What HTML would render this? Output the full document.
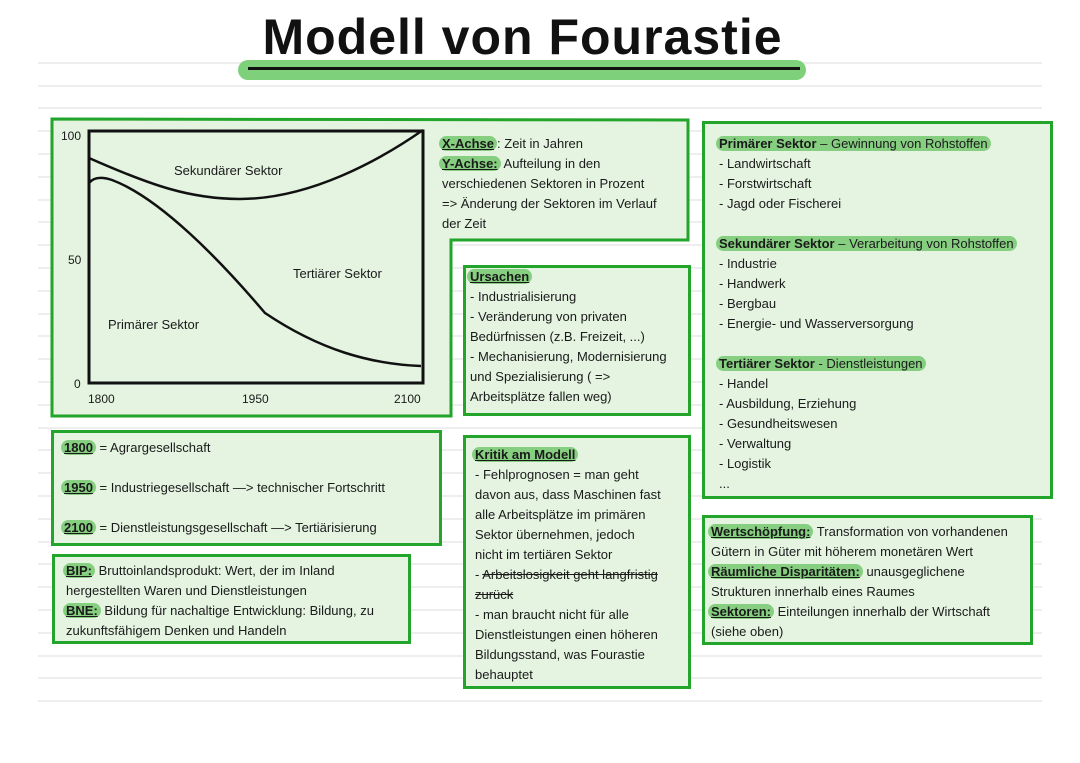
<!DOCTYPE html>
<html><head><meta charset="utf-8"><style>
body{margin:0;width:1080px;height:763px;background:#fff;position:relative;overflow:hidden;font-family:"Liberation Sans",sans-serif;color:#1a1a1a}
.t{position:absolute;font-size:13px;line-height:20px;white-space:nowrap}
.p{background:#86cf80;border-radius:8px;padding:0 3px;margin-left:-3px}
.u{text-decoration:underline;font-weight:bold}
.box{position:absolute;background:#e4f4e1;border:3px solid #22a52a;box-sizing:border-box}
</style></head><body>
<svg width="1080" height="763" style="position:absolute;left:0;top:0">
<g stroke="#dcdcdc" stroke-width="1">
<line x1="38" x2="1042" y1="63" y2="63"/><line x1="38" x2="1042" y1="86" y2="86"/><line x1="38" x2="1042" y1="108" y2="108"/><line x1="38" x2="1042" y1="131" y2="131"/><line x1="38" x2="1042" y1="154" y2="154"/><line x1="38" x2="1042" y1="177" y2="177"/><line x1="38" x2="1042" y1="200" y2="200"/><line x1="38" x2="1042" y1="222" y2="222"/><line x1="38" x2="1042" y1="245" y2="245"/><line x1="38" x2="1042" y1="268" y2="268"/><line x1="38" x2="1042" y1="291" y2="291"/><line x1="38" x2="1042" y1="314" y2="314"/><line x1="38" x2="1042" y1="336" y2="336"/><line x1="38" x2="1042" y1="359" y2="359"/><line x1="38" x2="1042" y1="382" y2="382"/><line x1="38" x2="1042" y1="405" y2="405"/><line x1="38" x2="1042" y1="428" y2="428"/><line x1="38" x2="1042" y1="450" y2="450"/><line x1="38" x2="1042" y1="473" y2="473"/><line x1="38" x2="1042" y1="496" y2="496"/><line x1="38" x2="1042" y1="519" y2="519"/><line x1="38" x2="1042" y1="542" y2="542"/><line x1="38" x2="1042" y1="564" y2="564"/><line x1="38" x2="1042" y1="587" y2="587"/><line x1="38" x2="1042" y1="610" y2="610"/><line x1="38" x2="1042" y1="633" y2="633"/><line x1="38" x2="1042" y1="656" y2="656"/><line x1="38" x2="1042" y1="678" y2="678"/><line x1="38" x2="1042" y1="701" y2="701"/>
</g>
<rect x="238" y="60" width="568" height="20" rx="10" fill="#7fd07a"/>
<rect x="248" y="67" width="552" height="3" fill="#111"/>
<polygon points="52,119 688,120 688,240 451,240 451,416 52,416" fill="#e4f4e1" stroke="#22a52a" stroke-width="3"/>
<rect x="89" y="131" width="334" height="252" fill="none" stroke="#111" stroke-width="3"/>
<path d="M89,158 C150,185 190,199 240,199 C310,199 380,160 423,130" fill="none" stroke="#111" stroke-width="2.5"/>
<path d="M89,183 C93,178 100,176 112,180 C160,198 220,260 265,313 C320,350 370,364 421,366" fill="none" stroke="#111" stroke-width="2.5"/>
</svg>
<div class="t" style="left:248px;top:8px;width:549px;text-align:center;font-size:50px;line-height:58px;font-weight:bold;color:#111;letter-spacing:1px">Modell von Fourastie</div>
<div class="t" style="left:61px;top:126px;font-size:12px">100</div>
<div class="t" style="left:68px;top:250px;font-size:12px">50</div>
<div class="t" style="left:74px;top:374px;font-size:12px">0</div>
<div class="t" style="left:88px;top:389px;font-size:12px">1800</div>
<div class="t" style="left:242px;top:389px;font-size:12px">1950</div>
<div class="t" style="left:394px;top:389px;font-size:12px">2100</div>
<div class="t" style="left:174px;top:161px">Sekundärer Sektor</div>
<div class="t" style="left:293px;top:264px">Tertiärer Sektor</div>
<div class="t" style="left:108px;top:315px">Primärer Sektor</div>

<div class="t" style="left:442px;top:134px"><span class="p u">X-Achse</span>: Zeit in Jahren<br><span class="p u">Y-Achse:</span> Aufteilung in den<br>verschiedenen Sektoren in Prozent<br>=&gt; Änderung der Sektoren im Verlauf<br>der Zeit</div>

<div class="box" style="left:463px;top:265px;width:228px;height:151px"></div>
<div class="t" style="left:470px;top:267px"><span class="p u">Ursachen</span><br>- Industrialisierung<br>- Veränderung von privaten<br>Bedürfnissen (z.B. Freizeit, ...)<br>- Mechanisierung, Modernisierung<br>und Spezialisierung ( =&gt;<br>Arbeitsplätze fallen weg)</div>

<div class="box" style="left:51px;top:430px;width:391px;height:116px"></div>
<div class="t" style="left:64px;top:428px;line-height:40px"><span class="p u">1800</span> = Agrargesellschaft<br><span class="p u">1950</span> = Industriegesellschaft —&gt; technischer Fortschritt<br><span class="p u">2100</span> = Dienstleistungsgesellschaft —&gt; Tertiärisierung</div>

<div class="box" style="left:52px;top:554px;width:359px;height:90px"></div>
<div class="t" style="left:66px;top:561px"><span class="p u">BIP:</span> Bruttoinlandsprodukt: Wert, der im Inland<br>hergestellten Waren und Dienstleistungen<br><span class="p u">BNE:</span> Bildung für nachaltige Entwicklung: Bildung, zu<br>zukunftsfähigem Denken und Handeln</div>

<div class="box" style="left:463px;top:435px;width:228px;height:254px"></div>
<div class="t" style="left:475px;top:445px"><span class="p u">Kritik am Modell</span><br>- Fehlprognosen = man geht<br>davon aus, dass Maschinen fast<br>alle Arbeitsplätze im primären<br>Sektor übernehmen, jedoch<br>nicht im tertiären Sektor<br>- <s>Arbeitslosigkeit geht langfristig</s><br><s>zurück</s><br>- man braucht nicht für alle<br>Dienstleistungen einen höheren<br>Bildungsstand, was Fourastie<br>behauptet</div>

<div class="box" style="left:702px;top:121px;width:351px;height:378px"></div>
<div class="t" style="left:719px;top:134px"><span class="p"><b>Primärer Sektor</b> – Gewinnung von Rohstoffen</span><br>- Landwirtschaft<br>- Forstwirtschaft<br>- Jagd oder Fischerei<br><br><span class="p"><b>Sekundärer Sektor</b> – Verarbeitung von Rohstoffen</span><br>- Industrie<br>- Handwerk<br>- Bergbau<br>- Energie- und Wasserversorgung<br><br><span class="p"><b>Tertiärer Sektor</b> - Dienstleistungen</span><br>- Handel<br>- Ausbildung, Erziehung<br>- Gesundheitswesen<br>- Verwaltung<br>- Logistik<br>...</div>

<div class="box" style="left:702px;top:515px;width:331px;height:130px"></div>
<div class="t" style="left:711px;top:522px"><span class="p u">Wertschöpfung:</span> Transformation von vorhandenen<br>Gütern in Güter mit höherem monetären Wert<br><span class="p u">Räumliche Disparitäten:</span> unausgeglichene<br>Strukturen innerhalb eines Raumes<br><span class="p u">Sektoren:</span> Einteilungen innerhalb der Wirtschaft<br>(siehe oben)</div>
</body></html>
